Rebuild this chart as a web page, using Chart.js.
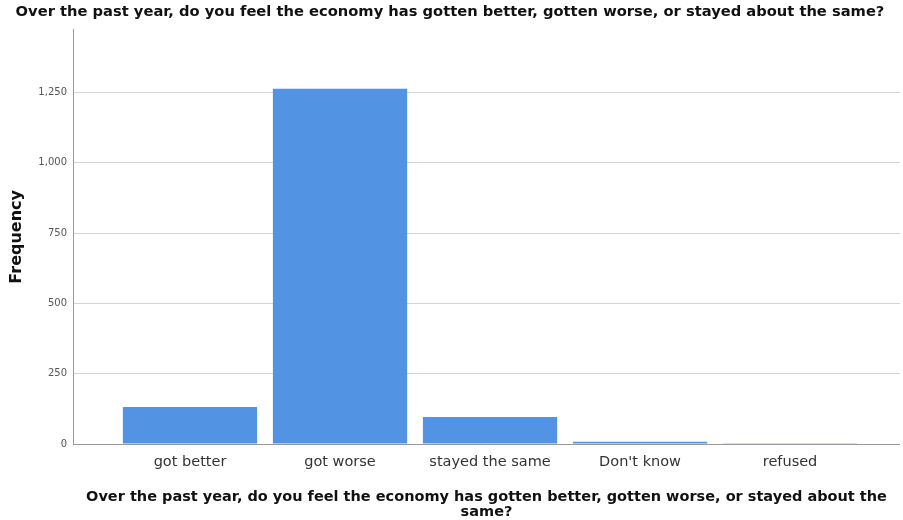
<!DOCTYPE html>
<html lang="en">
<head>
    <meta charset="UTF-8">
    <script src="https://cdn.jsdelivr.net/npm/chart.js"></script>
    <title>Economy opinion</title>
    <style>
        body, html {
            margin: 0;
            padding: 0;
            background: #fff;
            overflow: hidden;
        }
    </style>
</head>
<body>
    <canvas id="bar-chart-canvas" width="903" height="520"></canvas>
    <script>
        const categories = ["got better", "got worse", "stayed the same", "Don't know", "refused"]
        const frequencies = [132, 1264, 96, 8, 1]
        const yTicks = [0, 250, 500, 750, 1000, 1250]

        const question = "Over the past year, do you feel the economy has gotten better, gotten worse, or stayed about the same?"
        const axisTitleLines = ["Over the past year, do you feel the economy has gotten better, gotten worse, or stayed about the", "same?"]

        const font = "'DejaVu Sans', 'Liberation Sans', sans-serif"

        let barChart = new Chart(document.getElementById("bar-chart-canvas").getContext("2d"), {
            type: 'bar',
            data: {
                datasets: [{
                    data: categories.map((c, i) => ({ x: i, y: frequencies[i] })),
                    backgroundColor: '#5393e3',
                    borderWidth: 0,
                    categoryPercentage: 1,
                    barPercentage: 0.895
                }]
            },
            options: {
                responsive: false,
                animation: false,
                layout: { padding: { left: 0, right: 3, top: 0, bottom: 0 } },
                plugins: {
                    legend: { display: false },
                    tooltip: { enabled: false },
                    title: {
                        display: true,
                        text: question,
                        color: '#111',
                        font: { family: font, size: 14.7, weight: 'bold' },
                        padding: { top: 3, bottom: 9 }
                    }
                },
                scales: {
                    x: {
                        type: 'linear',
                        offset: false,
                        min: -0.78,
                        max: 4.733,
                        afterBuildTicks: (axis) => {
                            axis.ticks = categories.map((c, i) => ({ value: i }))
                        },
                        afterFit: (axis) => { axis.height = 76 },
                        grid: { display: false, drawTicks: false },
                        border: { display: false },
                        ticks: {
                            autoSkip: false,
                            maxRotation: 0,
                            padding: 10,
                            color: '#333',
                            font: { family: font, size: 14.5 },
                            callback: (v) => categories[v]
                        },
                        title: {
                            display: true,
                            text: axisTitleLines,
                            color: '#111',
                            font: { family: font, size: 14.5, weight: 'bold', lineHeight: 1.03 },
                            padding: { top: 11, bottom: 0 }
                        }
                    },
                    y: {
                        min: 0,
                        max: 1474,
                        afterBuildTicks: (axis) => {
                            axis.ticks = yTicks.map(v => ({ value: v }))
                        },
                        afterFit: (axis) => { axis.width = 73 },
                        grid: {
                            color: '#d4d4d4',
                            lineWidth: 1,
                            drawTicks: false
                        },
                        border: { display: true, color: '#999', width: 1 },
                        ticks: {
                            padding: 6,
                            color: '#555',
                            font: { family: font, size: 10 }
                        },
                        title: {
                            display: true,
                            text: 'Frequency',
                            color: '#111',
                            font: { family: font, size: 16, weight: 'bold' },
                            padding: { top: 7, bottom: 0 }
                        }
                    }
                }
            },
            plugins: [{
                // baseline at zero drawn darker, like the x axis line
                id: 'baseline',
                afterDatasetsDraw(chart) {
                    const ctx = chart.ctx
                    const y = chart.scales.y.getPixelForValue(0)
                    ctx.save()
                    ctx.strokeStyle = '#999'
                    ctx.lineWidth = 1
                    ctx.beginPath()
                    ctx.moveTo(chart.chartArea.left, y + 0.5)
                    ctx.lineTo(chart.chartArea.right, y + 0.5)
                    ctx.stroke()
                    ctx.restore()
                }
            }]
        })
    </script>
</body>
</html>
